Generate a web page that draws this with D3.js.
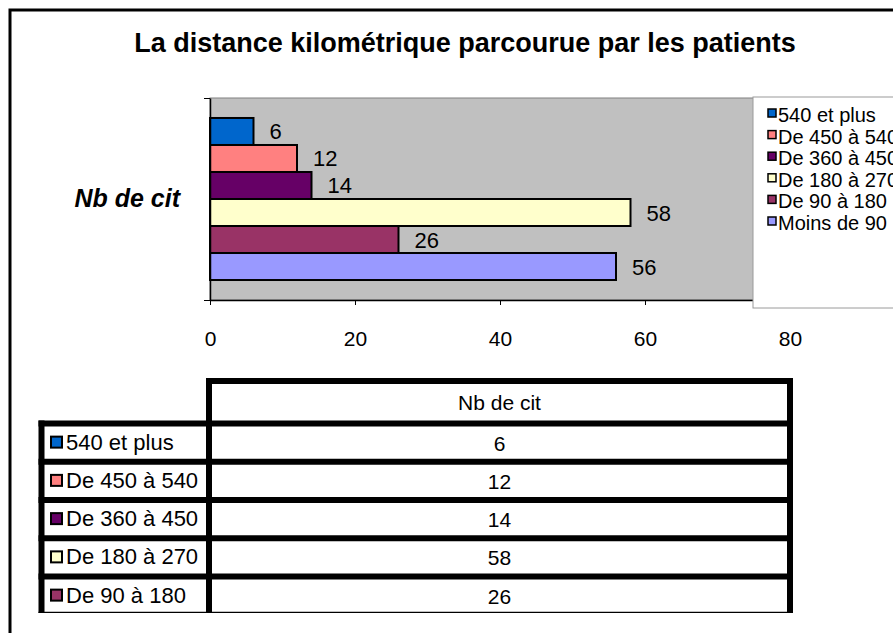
<!DOCTYPE html>
<html>
<head>
<meta charset="utf-8">
<script src="https://cdn.jsdelivr.net/npm/d3@7"></script>
<style>
  body { margin: 0; background: #fff; }
  svg { display: block; font-family: "Liberation Sans", Arial, sans-serif; }
</style>
</head>
<body>
<div id="chart"></div>
<script>
// data, top-to-bottom order as shown in the legend
var categories = ["540 et plus", "De 450 à 540", "De 360 à 450", "De 180 à 270", "De 90 à 180", "Moins de 90"];
var values = [6, 12, 14, 58, 26, 56];
var colors = ["#0066CC", "#FF8080", "#660066", "#FFFFCC", "#993366", "#9999FF"];
var seriesName = "Nb de cit";
var xTicks = [0, 20, 40, 60, 80];
var title = "La distance kilométrique parcourue par les patients";

var W = 893, H = 633;
var plot = {left: 210, right: 790, top: 98, bottom: 300};

var svg = d3.select("#chart").append("svg")
  .attr("width", W).attr("height", H);

// outer frame
svg.append("rect")
  .attr("x", 10).attr("y", 10).attr("width", W + 20).attr("height", H + 20)
  .attr("fill", "#fff").attr("stroke", "#000").attr("stroke-width", 3);

svg.append("text")
  .attr("x", 465).attr("y", 52)
  .attr("text-anchor", "middle")
  .style("font-size", "27px").style("font-weight", "bold")
  .text(title);

var x = d3.scaleLinear().domain([0, 80]).range([plot.left, plot.right]);
var y = d3.scaleBand().domain(categories).range([plot.top, plot.bottom])
  .paddingInner(0).paddingOuter(0.74);
var catY = d3.scaleBand().domain([seriesName]).range([plot.top, plot.bottom]);

// plot area
svg.append("rect")
  .attr("x", plot.left).attr("y", plot.top)
  .attr("width", plot.right - plot.left).attr("height", plot.bottom - plot.top)
  .attr("fill", "#C0C0C0").attr("stroke", "#808080").attr("stroke-width", 1);

var rows = categories.map(function(c, i) { return {cat: c, val: values[i], col: colors[i]}; });

svg.selectAll(".bar").data(rows).enter().append("rect")
  .attr("class", "bar")
  .attr("x", x(0)).attr("y", function(d) { return y(d.cat); })
  .attr("width", function(d) { return x(d.val) - x(0); })
  .attr("height", y.bandwidth())
  .attr("fill", function(d) { return d.col; })
  .attr("stroke", "#000").attr("stroke-width", 2);

svg.selectAll(".lbl").data(rows).enter().append("text")
  .attr("class", "lbl")
  .attr("x", function(d) { return x(d.val) + 16; })
  .attr("y", function(d) { return y(d.cat) + y.bandwidth() / 2 + 8; })
  .style("font-size", "22px")
  .text(function(d) { return d.val; });

// axes
var xAxis = svg.append("g")
  .attr("transform", "translate(0," + plot.bottom + ")")
  .call(d3.axisBottom(x).tickValues(xTicks).tickSize(5).tickPadding(26).tickSizeOuter(0));
var yAxis = svg.append("g")
  .attr("transform", "translate(" + plot.left + ",0)")
  .call(d3.axisLeft(d3.scaleLinear().domain([0, 1]).range([plot.bottom, plot.top]))
    .tickValues([0, 1]).tickFormat("").tickSize(6).tickSizeOuter(0));
[xAxis, yAxis].forEach(function(g) {
  g.select(".domain").attr("stroke", "#000").attr("stroke-width", 1.5);
  g.selectAll(".tick line").attr("stroke", "#000");
  g.selectAll("text").style("font-size", "21px").attr("fill", "#000")
    .style("font-family", "'Liberation Sans', Arial, sans-serif");
});

svg.append("text")
  .attr("x", 180).attr("y", catY(seriesName) + catY.bandwidth() / 2 + 8)
  .attr("text-anchor", "end")
  .style("font-size", "25px").style("font-weight", "bold").style("font-style", "italic")
  .text(seriesName);

// legend
var leg = svg.append("g");
leg.append("rect")
  .attr("x", 753).attr("y", 97).attr("width", 200).attr("height", 211)
  .attr("fill", "#fff").attr("stroke", "#9a9a9a").attr("stroke-width", 1);
var li = leg.selectAll(".li").data(rows).enter().append("g")
  .attr("transform", function(d, i) { return "translate(768," + (122 + i * 21.6) + ")"; });
li.append("rect")
  .attr("x", 0).attr("y", -13).attr("width", 8).attr("height", 8)
  .attr("fill", function(d) { return d.col; })
  .attr("stroke", "#000").attr("stroke-width", 1.5);
li.append("text")
  .attr("x", 10).attr("y", 0)
  .style("font-size", "20px")
  .text(function(d) { return d.cat; });

// data table
var tbl = {left: 41.5, sep: x(0) - 1, right: x(80), top: 381, head: 423.5, rowH: 38.25, clip: 613};
svg.append("clipPath").attr("id", "tclip")
  .append("rect").attr("x", 0).attr("y", 0).attr("width", W).attr("height", tbl.clip);
var t = svg.append("g").attr("clip-path", "url(#tclip)");
var lineY = d3.range(rows.length + 1).map(function(i) { return tbl.head + i * tbl.rowH; });

t.append("line")
  .attr("x1", tbl.sep - 3).attr("x2", tbl.right + 3).attr("y1", tbl.top).attr("y2", tbl.top);
t.selectAll(".hl").data(lineY).enter().append("line")
  .attr("x1", tbl.left - 3).attr("x2", tbl.right + 3)
  .attr("y1", function(d) { return d; }).attr("y2", function(d) { return d; });
t.append("line")
  .attr("x1", tbl.left).attr("x2", tbl.left).attr("y1", tbl.head - 3).attr("y2", H);
[tbl.sep, tbl.right].forEach(function(v) {
  t.append("line").attr("x1", v).attr("x2", v).attr("y1", tbl.top - 3).attr("y2", H);
});
t.selectAll("line").attr("stroke", "#000").attr("stroke-width", 6);

t.append("text")
  .attr("x", (tbl.sep + tbl.right) / 2).attr("y", (tbl.top + tbl.head) / 2 + 8)
  .attr("text-anchor", "middle").style("font-size", "21px")
  .text(seriesName);

var tr = t.selectAll(".tr").data(rows).enter().append("g")
  .attr("transform", function(d, i) { return "translate(0," + (tbl.head + (i + 0.5) * tbl.rowH) + ")"; });
tr.append("rect")
  .attr("x", 51).attr("y", -6).attr("width", 11).attr("height", 11)
  .attr("fill", function(d) { return d.col; })
  .attr("stroke", "#000").attr("stroke-width", 2);
tr.append("text")
  .attr("x", 66).attr("y", 7)
  .style("font-size", "22px")
  .text(function(d) { return d.cat; });
tr.append("text")
  .attr("x", (tbl.sep + tbl.right) / 2).attr("y", 8)
  .attr("text-anchor", "middle").style("font-size", "21px")
  .text(function(d) { return d.val; });
</script>
</body>
</html>
